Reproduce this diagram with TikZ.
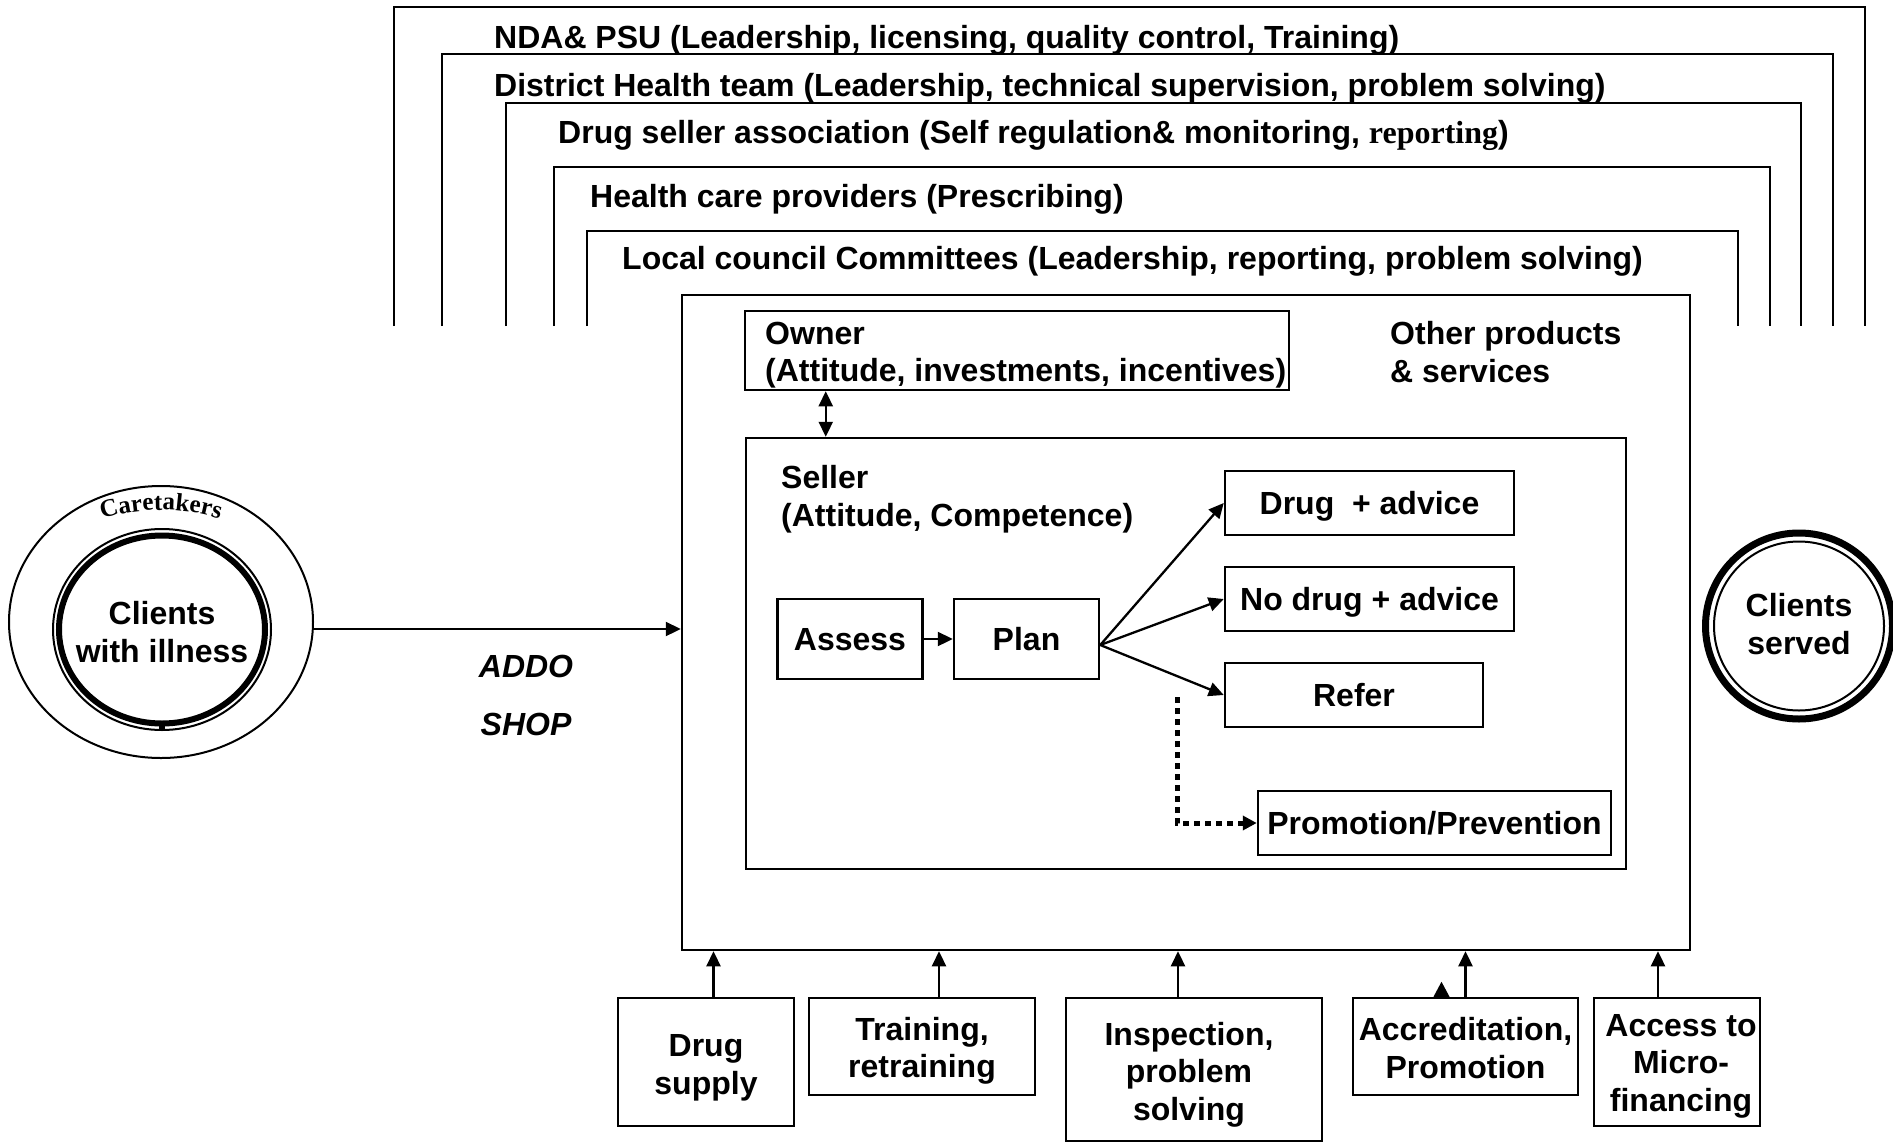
\documentclass[tikz,border=0pt]{standalone}
\usepackage{fontspec}
\setmainfont{Liberation Sans}
\newfontfamily\timesf{Liberation Serif}
\usetikzlibrary{arrows.meta,shapes.geometric,decorations.text,calc}
\newcommand\mainf{\bfseries\fontsize{32}{37.5}\selectfont}
\begin{document}
\begin{tikzpicture}[x=1pt,y=-1pt,
  box/.style={draw, line width=2.5pt, rectangle, inner sep=0pt, font=\mainf, align=center},
  sbox/.style={box, text height=24pt, text depth=1pt},
  frame/.style={draw, line width=2.8pt},
  lbl/.style={font=\mainf, inner sep=0pt},
  arr/.style={line width=2.3pt, -{Triangle[length=15pt,width=14pt]}},
  arrr/.style={line width=2.3pt, {Triangle[length=15pt,width=14pt]}-{Triangle[length=15pt,width=14pt]}},
  dotarr/.style={line width=5pt, dash pattern=on 6pt off 5pt, -{Triangle[length=14pt,width=14pt]}},
  ring/.style={draw, ellipse, inner sep=0pt},
]
\useasboundingbox (0,0) rectangle (1893,1143);
\fill[white] (0,0) rectangle (1893,1143);
% open nested frames
\draw[frame] (394,326) -- (394,7) -- (1865,7) -- (1865,326);
\draw[frame] (442,326) -- (442,54) -- (1833,54) -- (1833,326);
\draw[frame] (506,326) -- (506,103) -- (1801,103) -- (1801,326);
\draw[frame] (554,326) -- (554,167) -- (1770,167) -- (1770,326);
\draw[frame] (587,326) -- (587,231) -- (1738,231) -- (1738,326);
\node[lbl, anchor=base west] (f1) at (494,48) {NDA\& PSU (Leadership, licensing, quality control, Training)};
\node[lbl, anchor=base west] (f2) at (494,96) {District Health team (Leadership, technical supervision, problem solving)};
\node[lbl, anchor=base west] (f3) at (558,143) {Drug seller association (Self regulation\& monitoring, {\timesf reporting})};
\node[lbl, anchor=base west] (f4) at (590,207) {Health care providers (Prescribing)};
\node[lbl, anchor=base west] (f5) at (622,269) {Local council Committees (Leadership, reporting, problem solving)};
% main shop box
\node[box, minimum width=1008pt, minimum height=655pt] (main) at (1186,622.5) {};
\node[box, minimum width=544pt, minimum height=79pt] (owner) at (1017,350.5) {};
\node[lbl, anchor=west, align=left] (ownert) at (765,355) {Owner\\(Attitude, investments, incentives)};
\node[lbl, anchor=west, align=left] (other) at (1390,352) {Other products\\\& services};
\node[box, minimum width=880pt, minimum height=431pt] (seller) at (1186,653.5) {};
\node[lbl, anchor=west, align=left] (sellert) at (781,499) {Seller\\(Attitude, Competence)};
\draw[arrr] ([xshift=82pt]owner.south west) -- ([xshift=82pt]owner.south west |- seller.north);
% process
\node[sbox, minimum width=145pt, minimum height=80pt] (assess) at (850,639) {Assess};
\node[sbox, minimum width=145pt, minimum height=80pt] (plan) at (1026.5,639) {Plan};
\node[sbox, minimum width=289pt, minimum height=64pt] (da) at (1369.5,503) {Drug~~+ advice};
\node[sbox, minimum width=289pt, minimum height=64pt] (nda) at (1369.5,599) {No drug + advice};
\node[sbox, minimum width=258pt, minimum height=64pt] (refer) at (1354,695) {Refer};
\node[sbox, minimum width=353pt, minimum height=64pt] (promo) at (1434.5,823) {Promotion/Prevention};
\draw[arr] (assess) -- (plan);
\coordinate (pout) at ([yshift=-6pt]plan.east);
\draw[arr] (pout) -- (da.west);
\draw[arr] (pout) -- (nda.west);
\draw[arr] (pout) -- (refer.west);
\coordinate (dstart) at (1177,697);
\draw[dotarr] (dstart) |- (promo.west);
% clients with illness
\node[ring, line width=2pt, minimum width=304pt, minimum height=272pt] (care) at (161,622) {};
\node[ring, line width=2pt, minimum width=218pt, minimum height=201pt] (ill) at (162,629.5) {};
\node[ring, line width=6pt, minimum width=206pt, minimum height=188pt] (illin) at (ill.center) {};
\fill (159,723) rectangle (165,731);
\node[lbl, align=center] (illt) at (162,632) {Clients\\with illness};
\path[decorate, decoration={text along path, text align=center,
   text={|\timesf\bfseries\fontsize{25}{25}\selectfont|Caretakers}}]
  (care.center) ++(-125:150 and 112) arc[start angle=-125, end angle=-55, x radius=150, y radius=112];
\draw[arr] ([yshift=-7pt]care.east) -- ([yshift=-7pt]care.east -| main.west);
\node[lbl, font=\mainf\itshape, anchor=base] (addo) at (526,677) {ADDO};
\node[lbl, font=\mainf\itshape, anchor=base] (shop) at (526,735) {SHOP};
% clients served
\node[ring, line width=7pt, minimum width=187pt, minimum height=186pt] (served) at (1799,626) {};
\node[ring, line width=2pt, minimum width=170pt, minimum height=169pt] (servedin) at (served.center) {};
\node[lbl, align=center] (servedt) at (1799,624) {Clients\\served};
% support boxes
\node[box, minimum width=176pt, minimum height=128pt] (ds) at (706,1062) {};
\node[box, minimum width=226pt, minimum height=97pt] (tr) at (922,1046.5) {};
\node[box, minimum width=256pt, minimum height=143pt] (ins) at (1194,1069.5) {};
\node[box, minimum width=225pt, minimum height=97pt] (acc) at (1465.5,1046.5) {};
\node[box, minimum width=166pt, minimum height=128pt] (mf) at (1677,1062) {};
\node[lbl, align=center] (dst) at ([yshift=-6pt]ds.center) {Drug\\supply};
\node[lbl, align=center] (trt) at ([yshift=-4.5pt]tr.center) {Training,\\retraining};
\node[lbl, align=center] (inst) at ([xshift=-5pt,yshift=-5pt]ins.center) {Inspection,\\problem\\solving};
\node[lbl, align=center] (acct) at ([yshift=-1.5pt]acc.center) {Accreditation,\\Promotion};
\node[lbl, align=center] (mft) at ([xshift=4pt,yshift=-4pt]mf.center) {Access to\\Micro-\\financing};
\draw[arr] ([xshift=7.5pt]ds.north) -- ([xshift=7.5pt]ds.north |- main.south);
\draw[arr] ([xshift=17pt]tr.north) -- ([xshift=17pt]tr.north |- main.south);
\draw[arr] ([xshift=-16pt]ins.north) -- ([xshift=-16pt]ins.north |- main.south);
\draw[arr] (acc.north) -- (acc.north |- main.south);
\draw[arr] ([xshift=-19pt]mf.north) -- ([xshift=-19pt]mf.north |- main.south);
\fill ([xshift=-32pt]acc.north) -- ([xshift=-16pt]acc.north) -- ([xshift=-24pt,yshift=15pt]acc.north) -- cycle;
\end{tikzpicture}
\end{document}
